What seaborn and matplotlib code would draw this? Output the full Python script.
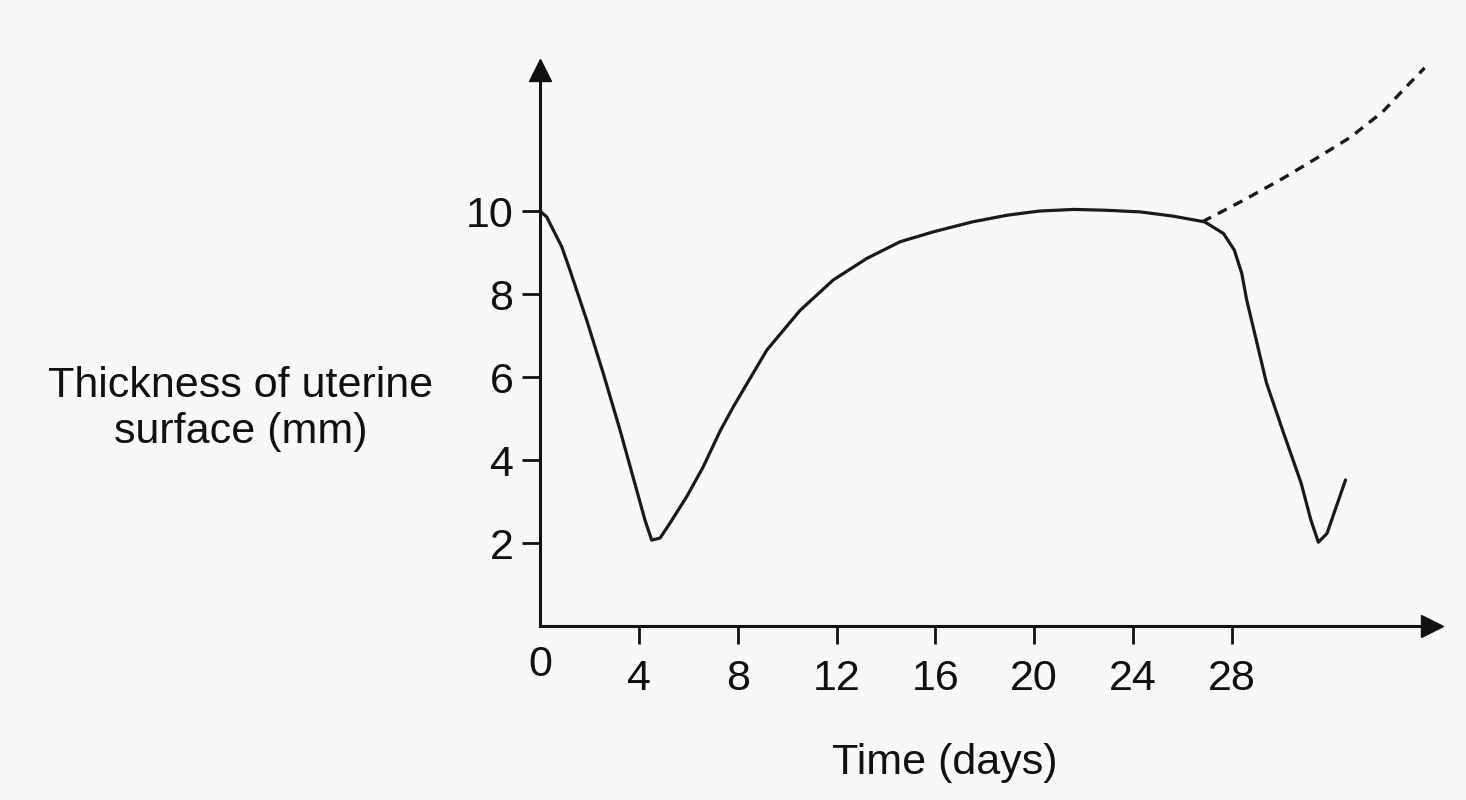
import numpy as np
import pandas as pd
import seaborn as sns
import matplotlib
matplotlib.use("Agg")
import matplotlib.pyplot as plt

# values
days = [0, 0.27, 0.54, 0.88, 1.21, 1.89, 2.56, 3.24, 3.91, 4.25, 4.52, 4.86, 5.26,
        5.94, 6.6, 7.29, 7.83, 9.18, 10.53, 11.87, 13.23, 14.57, 15.92, 17.5, 18.9,
        20.2, 21.6, 22.9, 24.3, 25.6, 26.9, 27.66, 28.1, 28.4, 28.6, 29.4, 30.1,
        30.8, 31.2, 31.5, 31.85, 32.6]
thickness = [10, 9.86, 9.54, 9.14, 8.58, 7.37, 6.09, 4.72, 3.28, 2.55, 2.07, 2.12,
             2.48, 3.12, 3.83, 4.7, 5.29, 6.65, 7.61, 8.34, 8.86, 9.26, 9.5, 9.74,
             9.9, 10.0, 10.04, 10.02, 9.98, 9.88, 9.74, 9.46, 9.06, 8.5, 7.86, 5.86,
             4.64, 3.45, 2.55, 2.02, 2.23, 3.52]

preg_days = [26.8, 28.5, 30.1, 31.5, 32.8, 34.1, 35.0, 35.8]
preg_thickness = [9.74, 10.27, 10.8, 11.3, 11.78, 12.39, 12.96, 13.45]

xticks = [4, 8, 12, 16, 20, 24, 28]
yticks = [2, 4, 6, 8, 10]

cycle = pd.DataFrame({"day": days, "mm": thickness})
preg = pd.DataFrame({"day": preg_days, "mm": preg_thickness})

sns.set_style("white")
plt.rcParams["font.family"] = ["Liberation Sans", "DejaVu Sans"]

bg = "#f6f8f9"
ink = "#111111"
fs = 31
fig = plt.figure(figsize=(14.66, 8), dpi=100, facecolor=bg)
ax = fig.add_axes([540 / 1466, 174 / 800, 892 / 1466, 556 / 800])
ax.set_facecolor(bg)

sns.lineplot(data=cycle, x="day", y="mm", sort=False, color="#1a1a1a", lw=2.3, ax=ax)
sns.lineplot(data=preg, x="day", y="mm", sort=False, color="#1a1a1a", lw=2.4,
             linestyle=(0, (3, 2.3)), ax=ax)
for l in ax.lines:
    l.set_clip_on(False)
    l.set_solid_joinstyle("round")
    l.set_solid_capstyle("round")

ax.set_xlim(0, 36.1)
ax.set_ylim(0, 13.4)

for s in ["top", "right"]:
    ax.spines[s].set_visible(False)
for s in ["left", "bottom"]:
    ax.spines[s].set_color(ink)
    ax.spines[s].set_linewidth(2.2)

# arrow heads at the axis ends
ax.plot(1, 0, ">", color=ink, ms=16, transform=ax.transAxes, clip_on=False)
ax.plot(0, 1, "^", color=ink, ms=16, transform=ax.transAxes, clip_on=False)

ax.set_xticks(xticks)
ax.set_yticks(yticks)
ax.tick_params(axis="x", direction="out", length=13, width=2, color=ink,
               labelcolor=ink, labelsize=fs, pad=11, bottom=True)
ax.tick_params(axis="y", direction="out", length=13, width=2, color=ink,
               labelcolor=ink, labelsize=fs, pad=6, left=True)
ax.text(0, -0.07, "0", transform=ax.get_xaxis_transform(), ha="center", va="center",
        fontsize=fs, color=ink)

ax.set_xlabel("Time (days)", fontsize=fs, color=ink)
ax.xaxis.set_label_coords(0.454, -0.21)
ax.set_ylabel("Thickness of uterine\nsurface (mm)", fontsize=fs, color=ink,
              rotation=0, ha="center", va="center", multialignment="center",
              linespacing=1.2)
ax.yaxis.set_label_coords(-0.336, 0.39)

fig.savefig("out.png", dpi=100, facecolor=bg)
